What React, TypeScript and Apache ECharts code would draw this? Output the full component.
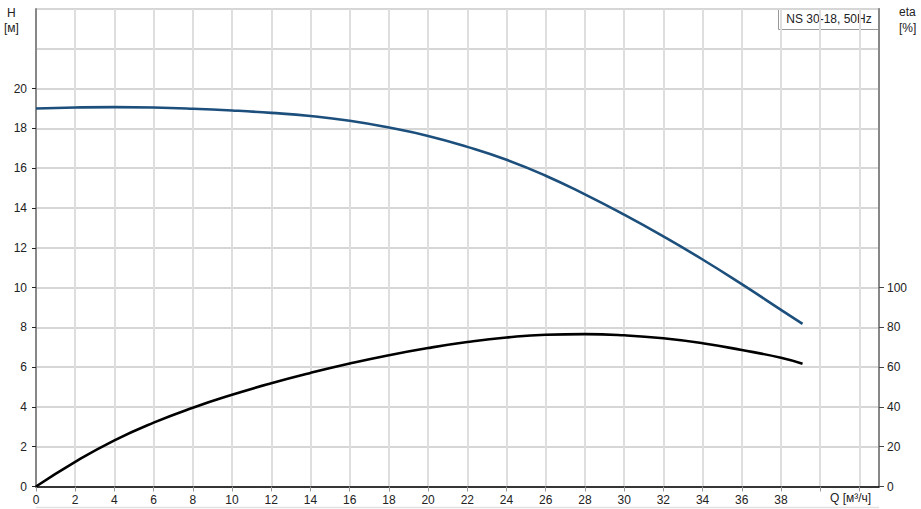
import React, { useEffect, useRef } from "react";
import * as echarts from "echarts";

const flowQ = [0, 2, 4, 6, 8, 10, 12, 14, 16, 18, 20, 22, 24, 26, 28, 30, 32, 34, 36, 38, 39.1];
const headH = [19.0, 19.05, 19.07, 19.05, 18.99, 18.9, 18.78, 18.62, 18.38, 18.04, 17.62, 17.07, 16.42, 15.62, 14.68, 13.66, 12.57, 11.41, 10.17, 8.88, 8.17];
const effEta = [0, 12.4, 23.2, 32.1, 39.6, 46.1, 51.9, 57.1, 61.8, 66.0, 69.6, 72.6, 74.9, 76.3, 76.6, 76.0, 74.5, 72.0, 68.6, 64.7, 61.7];
const xTickValues = [0, 2, 4, 6, 8, 10, 12, 14, 16, 18, 20, 22, 24, 26, 28, 30, 32, 34, 36, 38, 40, 42];
const xLabelValues = [0, 2, 4, 6, 8, 10, 12, 14, 16, 18, 20, 22, 24, 26, 28, 30, 32, 34, 36, 38];
const hLabelValues = [0, 2, 4, 6, 8, 10, 12, 14, 16, 18, 20];
const etaLabelValues = [0, 20, 40, 60, 80, 100];
const titleText = "NS 30-18, 50Hz";

const FONT = "'Liberation Sans', Arial, sans-serif";

export default function App() {
  const ref = useRef<HTMLDivElement>(null);
  useEffect(() => {
    if (!ref.current) return;
    const chart = echarts.init(ref.current, undefined, { renderer: "svg" });
    const labelStyle = { color: "#222", fontSize: 12, fontFamily: FONT };
    chart.setOption({
      animation: false,
      backgroundColor: "#fff",
      grid: { left: 36, right: 42, top: 9, bottom: 22.5, containLabel: false },
      xAxis: {
        type: "value",
        min: 0,
        max: 43,
        interval: 2,
        axisLine: { show: true, onZero: false, lineStyle: { color: "#000", width: 1.5 } },
        axisTick: { show: true, length: 5, customValues: xTickValues, lineStyle: { color: "#999" } },
        axisLabel: { ...labelStyle, margin: 7, customValues: xLabelValues },
        splitLine: { show: true, lineStyle: { color: "#dedede", width: 2 } },
      },
      yAxis: [
        {
          type: "value",
          position: "left",
          min: 0,
          max: 24,
          interval: 2,
          axisLine: { show: true, lineStyle: { color: "#888", width: 2 } },
          axisTick: { show: true, length: 4, customValues: hLabelValues, lineStyle: { color: "#222" } },
          axisLabel: { ...labelStyle, margin: 9, customValues: hLabelValues },
          splitLine: { show: false },
        },
        {
          type: "value",
          position: "right",
          min: 0,
          max: 240,
          interval: 20,
          axisLine: { show: true, lineStyle: { color: "#888", width: 2 } },
          axisTick: { show: true, length: 5, customValues: etaLabelValues, lineStyle: { color: "#444" } },
          axisLabel: { ...labelStyle, margin: 8, customValues: etaLabelValues },
          splitLine: { show: false },
        },
        {
          type: "value",
          position: "left",
          min: 0,
          max: 24,
          interval: 2,
          axisLine: { show: false },
          axisTick: { show: false },
          axisLabel: { show: false },
          splitLine: { show: true, lineStyle: { color: "#d6d6d6", width: 2 } },
        },
      ],
      series: [
        {
          name: "H",
          type: "line",
          yAxisIndex: 0,
          smooth: 0.5,
          showSymbol: false,
          lineStyle: { color: "#1d4f7c", width: 2.6 },
          data: flowQ.map((q, i) => [q, headH[i]]),
          z: 5,
        },
        {
          name: "eta",
          type: "line",
          yAxisIndex: 1,
          smooth: 0.5,
          showSymbol: false,
          lineStyle: { color: "#000", width: 2.6 },
          data: flowQ.map((q, i) => [q, effEta[i]]),
          z: 5,
        },
      ],
      graphic: [
        { type: "text", left: 7, top: 7, style: { text: "H", fontSize: 12, fontFamily: FONT, fill: "#222" } },
        { type: "text", left: 4, top: 22, style: { text: "[м]", fontSize: 12, fontFamily: FONT, fill: "#222" } },
        { type: "text", left: 899, top: 6, style: { text: "eta", fontSize: 12, fontFamily: FONT, fill: "#222" } },
        { type: "text", left: 899, top: 22, style: { text: "[%]", fontSize: 12, fontFamily: FONT, fill: "#222" } },
        { type: "text", left: 830, top: 492, style: { text: "Q [м³/ч]", fontSize: 12, fontFamily: FONT, fill: "#222" } },
        {
          type: "line",
          shape: { x1: 36, y1: 507.5, x2: 879, y2: 507.5 },
          style: { stroke: "#e2e2e2", lineWidth: 1.5 },
        },
        {
          type: "group",
          left: 778,
          top: 8,
          children: [
            { type: "rect", shape: { x: 0, y: 0, width: 101, height: 21 }, style: { fill: "#fff", stroke: "#999", lineWidth: 1 } },
            { type: "text", x: 50.5, y: 10.5, style: { text: titleText, fontSize: 12, fontFamily: FONT, fill: "#222", align: "center", verticalAlign: "middle" } },
          ],
        },
      ],
    });
    return () => chart.dispose();
  }, []);
  return <div ref={ref} style={{ width: 921, height: 509, position: "absolute", left: 0, top: 0 }} />;
}
